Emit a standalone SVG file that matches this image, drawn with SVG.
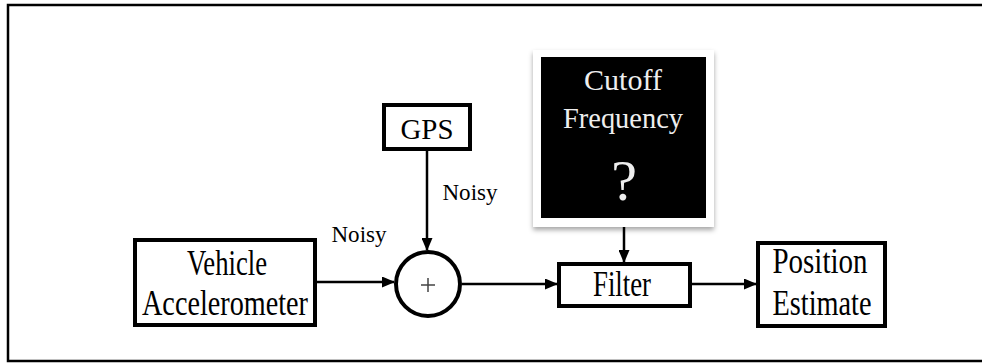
<svg xmlns="http://www.w3.org/2000/svg" width="982" height="364" viewBox="0 0 982 364">
  <defs>
    <marker id="arrow" markerUnits="userSpaceOnUse" markerWidth="13" markerHeight="11" refX="12" refY="5.5" orient="auto">
      <path d="M0,0 L13,5.5 L0,11 z" fill="#000"/>
    </marker>
    <filter id="shadow" x="-10%" y="-10%" width="120%" height="125%">
      <feDropShadow dx="0" dy="3" stdDeviation="2.5" flood-color="#000" flood-opacity="0.35"/>
    </filter>
    <style>
      .box { fill: #fff; stroke: #000; stroke-width: 4; }
      .lbl { font-family: "Liberation Serif", "Times New Roman", serif; fill: #000; text-anchor: middle; }
      .big { font-size: 35px; }
      .small { font-size: 23px; }
      .inv { fill: #eee; }
      .wire { fill: none; stroke: #000; stroke-width: 2.5; marker-end: url(#arrow); }
    </style>
  </defs>

  <rect width="982" height="364" fill="#fff"/>
  <!-- frame: open on the right -->
  <path d="M984,5 H8 V361 H984" fill="none" stroke="#000" stroke-width="2.5"/>

  <g id="connectors">
    <path class="wire" d="M317,282 H394"/>
    <path class="wire" d="M427,151 V250"/>
    <path class="wire" d="M462,284 H557"/>
    <path class="wire" d="M624,226 V262"/>
    <path class="wire" d="M692,284 H756"/>
  </g>

  <g id="accelerometer">
    <rect class="box" x="135" y="240" width="180" height="85"/>
    <text class="lbl big" x="227" y="275" textLength="80" lengthAdjust="spacingAndGlyphs">Vehicle</text>
    <text class="lbl big" x="225" y="315" textLength="166" lengthAdjust="spacingAndGlyphs">Accelerometer</text>
  </g>

  <g id="gps">
    <rect class="box" x="384" y="105" width="86" height="44"/>
    <text class="lbl" x="427" y="139" font-size="30" textLength="53" lengthAdjust="spacingAndGlyphs">GPS</text>
  </g>

  <g id="sum">
    <circle cx="428" cy="284" r="32" fill="#fff" stroke="#000" stroke-width="4"/>
    <path d="M421,285 H435 M428,278 V292" stroke="#444" stroke-width="1.5"/>
  </g>

  <g id="cutoff">
    <rect x="533" y="50" width="181" height="177" fill="#fff" filter="url(#shadow)"/>
    <rect x="541" y="57" width="165" height="161" fill="#000"/>
    <text class="lbl inv" x="623" y="90" font-size="29" textLength="78" lengthAdjust="spacingAndGlyphs">Cutoff</text>
    <text class="lbl inv" x="623" y="128" font-size="29" textLength="120" lengthAdjust="spacingAndGlyphs">Frequency</text>
    <text class="lbl inv" x="624" y="200" font-size="58">?</text>
  </g>

  <g id="filter">
    <rect class="box" x="559" y="264" width="131" height="42"/>
    <text class="lbl big" x="622" y="296" textLength="58" lengthAdjust="spacingAndGlyphs">Filter</text>
  </g>

  <g id="position">
    <rect class="box" x="758" y="243" width="127" height="83"/>
    <text class="lbl big" x="820" y="273" textLength="95" lengthAdjust="spacingAndGlyphs">Position</text>
    <text class="lbl big" x="822" y="315" textLength="99" lengthAdjust="spacingAndGlyphs">Estimate</text>
  </g>

  <g id="labels">
    <text class="lbl small" x="359" y="242" textLength="55" lengthAdjust="spacingAndGlyphs">Noisy</text>
    <text class="lbl small" x="470" y="200" textLength="55" lengthAdjust="spacingAndGlyphs">Noisy</text>
  </g>
</svg>
